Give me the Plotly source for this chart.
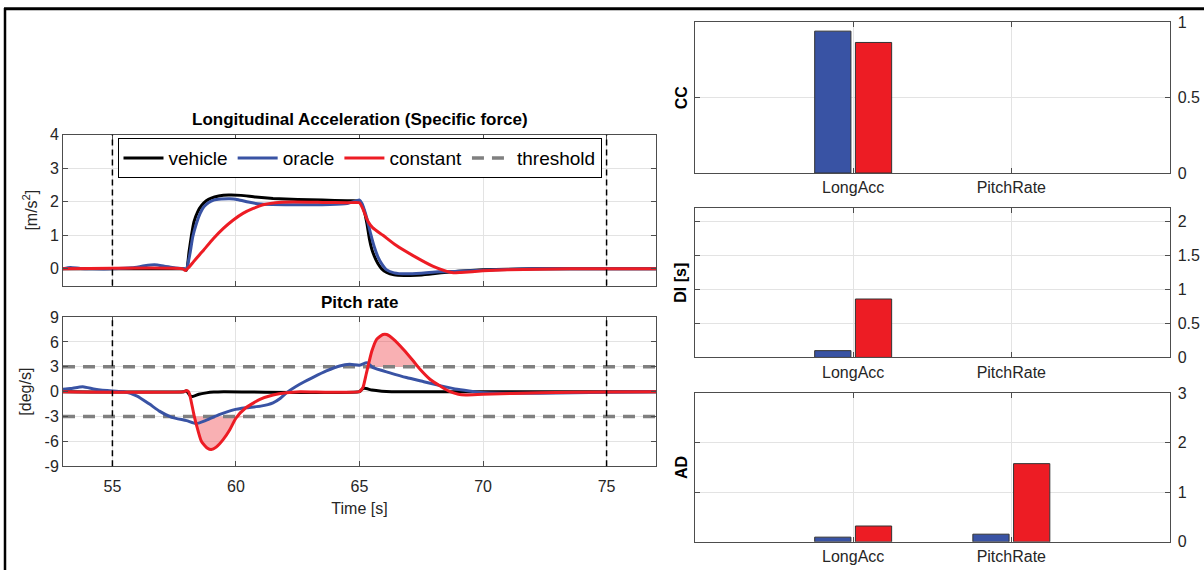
import numpy as np
import plotly.graph_objects as go

# ---------------- data ----------------
acc_vehicle_t = [53.0, 55.0, 57.0, 57.9, 58.0, 58.1, 58.2, 58.3, 58.45, 58.6, 58.8, 59.0, 59.3, 59.7, 60.2, 60.8,
                 61.5, 62.5, 63.5, 64.5, 65.0, 65.1, 65.2, 65.3, 65.4, 65.5, 65.6, 65.75, 65.9, 66.1, 66.4, 66.8,
                 67.3, 67.8, 68.3, 69.0, 70.0, 71.0, 72.0, 77.0]
acc_vehicle = [0.0, 0.0, 0.0, 0.0, -0.04, 0.5, 1.0, 1.4, 1.7, 1.88, 2.03, 2.11, 2.17, 2.2, 2.19, 2.14,
               2.1, 2.07, 2.05, 2.03, 2.02, 1.9, 1.7, 1.35, 0.9, 0.58, 0.38, 0.15, 0.0, -0.11, -0.18, -0.2,
               -0.19, -0.16, -0.12, -0.07, -0.03, -0.01, 0.0, 0.0]

acc_oracle_t = [53.0, 53.3, 53.7, 54.2, 55.0, 55.8, 56.3, 56.7, 57.1, 57.5, 57.9, 58.0, 58.07, 58.15, 58.25, 58.4,
                58.55, 58.7, 58.9, 59.1, 59.4, 59.75, 60.1, 60.5, 61.0, 62.0, 63.0, 63.8, 64.5, 64.85, 65.0,
                65.1, 65.2, 65.3, 65.45, 65.6, 65.75, 65.9, 66.1, 66.4, 66.9, 67.5, 68.2, 69.0, 70.0, 71.0,
                72.0, 77.0]
acc_oracle = [0.0, 0.04, 0.01, 0.0, 0.0, 0.03, 0.09, 0.12, 0.08, 0.03, 0.0, -0.02, 0.2, 0.5, 0.95, 1.35,
              1.65, 1.85, 1.98, 2.05, 2.08, 2.09, 2.06, 1.99, 1.93, 1.91, 1.91, 1.92, 1.95, 2.02, 2.05,
              1.95, 1.75, 1.5, 1.05, 0.65, 0.35, 0.15, -0.03, -0.12, -0.15, -0.13, -0.09, -0.07, -0.04, -0.02,
              0.0, 0.0]

acc_constant_t = [53.0, 57.85, 57.95, 58.1, 58.27, 58.5, 58.68, 59.08, 59.48, 59.88, 60.3, 60.7, 61.1, 61.6,
                  62.3, 63.5, 64.5, 65.0, 65.14, 65.34, 65.54, 65.95, 66.48, 67.15, 67.96, 68.5, 68.8, 69.1,
                  70.0, 71.0, 72.3, 73.5, 77.0]
acc_constant = [0.0, 0.0, -0.05, 0.05, 0.2, 0.4, 0.55, 0.9, 1.2, 1.45, 1.66, 1.8, 1.91, 1.97,
                1.99, 1.98, 1.97, 1.97, 1.78, 1.42, 1.22, 1.0, 0.7, 0.4, 0.08, -0.07, -0.12, -0.11,
                -0.06, -0.03, -0.01, 0.0, 0.0]

pitch_vehicle_t = [53.0, 57.9, 58.0, 58.15, 58.25, 58.5, 58.8, 59.1, 59.5, 65.0, 65.1, 65.2, 65.5, 65.9, 66.3, 77.0]
pitch_vehicle = [0.0, 0.0, 0.1, -0.5, -0.6, -0.32, -0.15, -0.05, 0.0, 0.0, 0.3, 0.4, 0.2, 0.06, 0.0, 0.0]

pitch_oracle_t = [53.0, 53.3, 53.8, 54.3, 55.0, 55.45, 56.0, 56.5, 56.9, 57.4, 58.0, 58.4, 58.8, 59.35, 59.9,
                  60.4, 61.0, 61.5, 61.8, 62.04, 62.58, 63.1, 63.66, 64.2, 64.6, 65.0, 65.3, 65.55, 66.2,
                  66.9, 67.6, 68.3, 68.95, 69.65, 70.1, 72.3, 75.0, 77.0]
pitch_oracle = [0.3, 0.38, 0.6, 0.3, 0.08, 0.0, -0.53, -1.5, -2.35, -3.1, -3.5, -3.85, -3.45, -2.75, -2.2,
                -1.95, -1.75, -1.35, -0.8, -0.15, 0.9, 1.7, 2.5, 3.1, 3.3, 3.2, 3.5, 2.9, 2.3,
                1.7, 1.2, 0.7, 0.28, 0.0, -0.12, -0.2, -0.08, 0.0]

pitch_constant_t = [53.0, 57.9, 58.0, 58.08, 58.14, 58.3, 58.4, 58.6, 58.85, 59.0, 59.2, 59.48, 59.75, 60.0,
                    60.4, 60.97, 61.5, 62.04, 62.6, 65.0, 65.14, 65.27, 65.5, 65.7, 65.95, 66.1, 66.37, 66.78,
                    67.18, 67.45, 67.85, 68.25, 68.6, 69.0, 69.3, 70.0, 72.3, 75.0, 77.0]
pitch_constant = [0.0, 0.0, 0.15, 0.0, -0.5, -2.8, -4.0, -6.0, -6.85, -7.0, -6.7, -5.8, -4.6, -3.2,
                  -1.95, -0.93, -0.4, -0.12, 0.0, 0.0, 0.5, 2.1, 4.9, 6.35, 6.9, 6.9, 6.35, 5.1,
                  3.7, 2.7, 1.5, 0.7, 0.08, -0.32, -0.4, -0.32, -0.12, -0.04, 0.0]

threshold = 3.0
window = [55, 75]
time_range = [53, 77]
time_ticks = [55, 60, 65, 70, 75]
acc_ticks = [0, 1, 2, 3, 4]
pitch_ticks = [-9, -6, -3, 0, 3, 6, 9]
pitch_ticktext = ["-9", "-6", "-3", "0", "3", "6", "9"]

categories = ["LongAcc", "PitchRate"]
cc_oracle = [0.94, None]
cc_constant = [0.865, None]
di_oracle = [0.10, None]
di_constant = [0.86, None]
ad_oracle = [0.095, 0.155]
ad_constant = [0.32, 1.58]

# ---------------- styles ----------------
W, H = 1204, 579
BLACK = "#000000"
BLUE = "rgb(57,83,164)"
RED = "rgb(237,28,36)"
GRAY = "#808080"
AX = "#4d4d4d"
GRID = "#e3e3e3"
TXT = "#262626"
FONT = "Liberation Sans, Arial, sans-serif"


def px_x(p):
    return p / W


def px_y(p):
    return min(1.0, max(0.0, 1 - p / H))


fig = go.Figure()

LINE_SHAPE = dict(shape="spline", smoothing=0.5)

# line series first (legend order: vehicle, oracle, constant, threshold)
series = [
    ("vehicle", BLACK, acc_vehicle_t, acc_vehicle, pitch_vehicle_t, pitch_vehicle),
    ("oracle", BLUE, acc_oracle_t, acc_oracle, pitch_oracle_t, pitch_oracle),
    ("constant", RED, acc_constant_t, acc_constant, pitch_constant_t, pitch_constant),
]
for name, col, at, av, pt, pv in series:
    fig.add_trace(go.Scatter(x=at, y=av, mode="lines", line=dict(color=col, width=3, **LINE_SHAPE),
                             name=name, legendgroup=name, xaxis="x", yaxis="y"))

# threshold fills (constant outside +/- threshold)
pc = np.array(pitch_constant, dtype=float)
for sign in (-1, 1):
    base = np.full_like(pc, sign * threshold)
    clipped = np.minimum(pc, -threshold) if sign < 0 else np.maximum(pc, threshold)
    fig.add_trace(go.Scatter(x=pitch_constant_t, y=base, mode="lines", line=dict(width=0),
                             showlegend=False, hoverinfo="skip", xaxis="x2", yaxis="y2"))
    fig.add_trace(go.Scatter(x=pitch_constant_t, y=clipped, mode="lines", line=dict(width=0),
                             fill="tonexty", fillcolor="rgba(237,28,36,0.35)",
                             showlegend=False, hoverinfo="skip", xaxis="x2", yaxis="y2"))

# threshold lines
fig.add_trace(go.Scatter(x=[time_range[0], time_range[1], None, time_range[0], time_range[1]],
                         y=[threshold, threshold, None, -threshold, -threshold], mode="lines",
                         line=dict(color=GRAY, width=3.5, dash="12px,8px"), name="threshold",
                         xaxis="x2", yaxis="y2"))

for name, col, at, av, pt, pv in series:
    fig.add_trace(go.Scatter(x=pt, y=pv, mode="lines", line=dict(color=col, width=3, **LINE_SHAPE),
                             name=name, legendgroup=name, showlegend=False, xaxis="x2", yaxis="y2"))

# bar charts
bar_sets = [(cc_oracle, cc_constant, "x3", "y3"),
            (di_oracle, di_constant, "x4", "y4"),
            (ad_oracle, ad_constant, "x5", "y5")]
for o, c, xa, ya in bar_sets:
    fig.add_trace(go.Bar(x=categories, y=o, marker=dict(color=BLUE, line=dict(color="#333333", width=1)),
                         showlegend=False, xaxis=xa, yaxis=ya, offsetgroup="o"))
    fig.add_trace(go.Bar(x=categories, y=c, marker=dict(color=RED, line=dict(color="#333333", width=1)),
                         showlegend=False, xaxis=xa, yaxis=ya, offsetgroup="c"))

tickfont = dict(family=FONT, size=16, color=TXT)
common = dict(showline=True, linecolor=AX, linewidth=1, mirror="ticks", ticks="inside", ticklen=5,
              tickcolor=AX, gridcolor=GRID, gridwidth=1, zeroline=False, tickfont=tickfont)

# left domains
lx = [px_x(63), px_x(656)]
fig.update_layout(
    xaxis=dict(domain=lx, anchor="y", range=time_range, tickvals=time_ticks, showticklabels=False, **common),
    yaxis=dict(domain=[px_y(286), px_y(130.5)], anchor="x", range=[-0.5, 4], tickvals=acc_ticks,
               title=dict(text="[m/s<sup>2</sup>]", font=dict(family=FONT, size=16, color=TXT), standoff=8),
               **common),
    xaxis2=dict(domain=lx, anchor="y2", range=time_range, tickvals=time_ticks, ticklabelstandoff=6,
                title=dict(text="Time [s]", font=dict(family=FONT, size=16, color=TXT), standoff=8),
                **common),
    yaxis2=dict(domain=[px_y(472), px_y(318.5)], anchor="x2", range=[-9, 9], tickvals=pitch_ticks,
                ticktext=pitch_ticktext,
                title=dict(text="[deg/s]", font=dict(family=FONT, size=16, color=TXT), standoff=8),
                **common),
)

rx = [px_x(695), px_x(1169.5)]
right_specs = [("3", [170, 14.5], [0, 1], [0, 0.5, 1]),
               ("4", [360, 206], [0, 2.2], [0, 0.5, 1, 1.5, 2]),
               ("5", [550, 397], [0, 3], [0, 1, 2, 3])]
for k, (b, t), yr, tv in right_specs:
    fig.update_layout({
        "xaxis" + k: dict(domain=rx, anchor="y" + k, type="category", range=[-1, 2],
                          categoryorder="array", categoryarray=categories, showgrid=True, **common),
        "yaxis" + k: dict(domain=[px_y(b), px_y(t)], anchor="x" + k, side="right", range=yr, tickvals=tv,
                          ticklabelstandoff=4, **common),
    })

fig.update_layout(barmode="group", bargap=0.485, bargroupgap=0.11)

# titles / labels
ann = []
ann.append(dict(text="<b>Longitudinal Acceleration (Specific force)</b>", x=px_x(359.5), y=px_y(115),
                xref="paper", yref="paper", xanchor="center", yanchor="middle", showarrow=False,
                font=dict(family=FONT, size=17, color=BLACK)))
ann.append(dict(text="<b>Pitch rate</b>", x=px_x(359.5), y=px_y(303), xref="paper", yref="paper",
                xanchor="center", yanchor="middle", showarrow=False,
                font=dict(family=FONT, size=17, color=BLACK)))
for txt, yc in [("CC", 92), ("DI [s]", 283), ("AD", 474)]:
    ann.append(dict(text="<b>" + txt + "</b>", x=px_x(681), y=px_y(yc), xref="paper", yref="paper",
                    xanchor="center", yanchor="middle", showarrow=False, textangle=-90,
                    font=dict(family=FONT, size=16, color=BLACK)))
fig.update_layout(annotations=ann)

# time window markers
for w in window:
    for xr, yr in (("x", "y domain"), ("x2", "y2 domain")):
        fig.add_shape(type="line", x0=w, x1=w, y0=0, y1=1, xref=xr, yref=yr,
                      line=dict(color=BLACK, width=1.5, dash="6px,4px"))

# outer frame (top and left)
fig.add_shape(type="line", x0=px_x(4), x1=1, y0=px_y(0.8), y1=px_y(0.8), xref="paper", yref="paper",
              line=dict(color=BLACK, width=3))
fig.add_shape(type="line", x0=px_x(5), x1=px_x(5), y0=0, y1=px_y(0), xref="paper", yref="paper",
              line=dict(color=BLACK, width=2.5))

fig.update_layout(
    width=W, height=H, autosize=False, margin=dict(l=0, r=0, t=0, b=0),
    paper_bgcolor="white", plot_bgcolor="white",
    font=dict(family=FONT, size=16, color=TXT),
    legend=dict(orientation="h", x=px_x(359.5), y=px_y(134), xanchor="center", yanchor="top",
                traceorder="normal", bgcolor="white", bordercolor=BLACK, borderwidth=1,
                font=dict(family=FONT, size=19, color=BLACK), itemwidth=40, tracegroupgap=0),
)

fig.write_html("out.html")
